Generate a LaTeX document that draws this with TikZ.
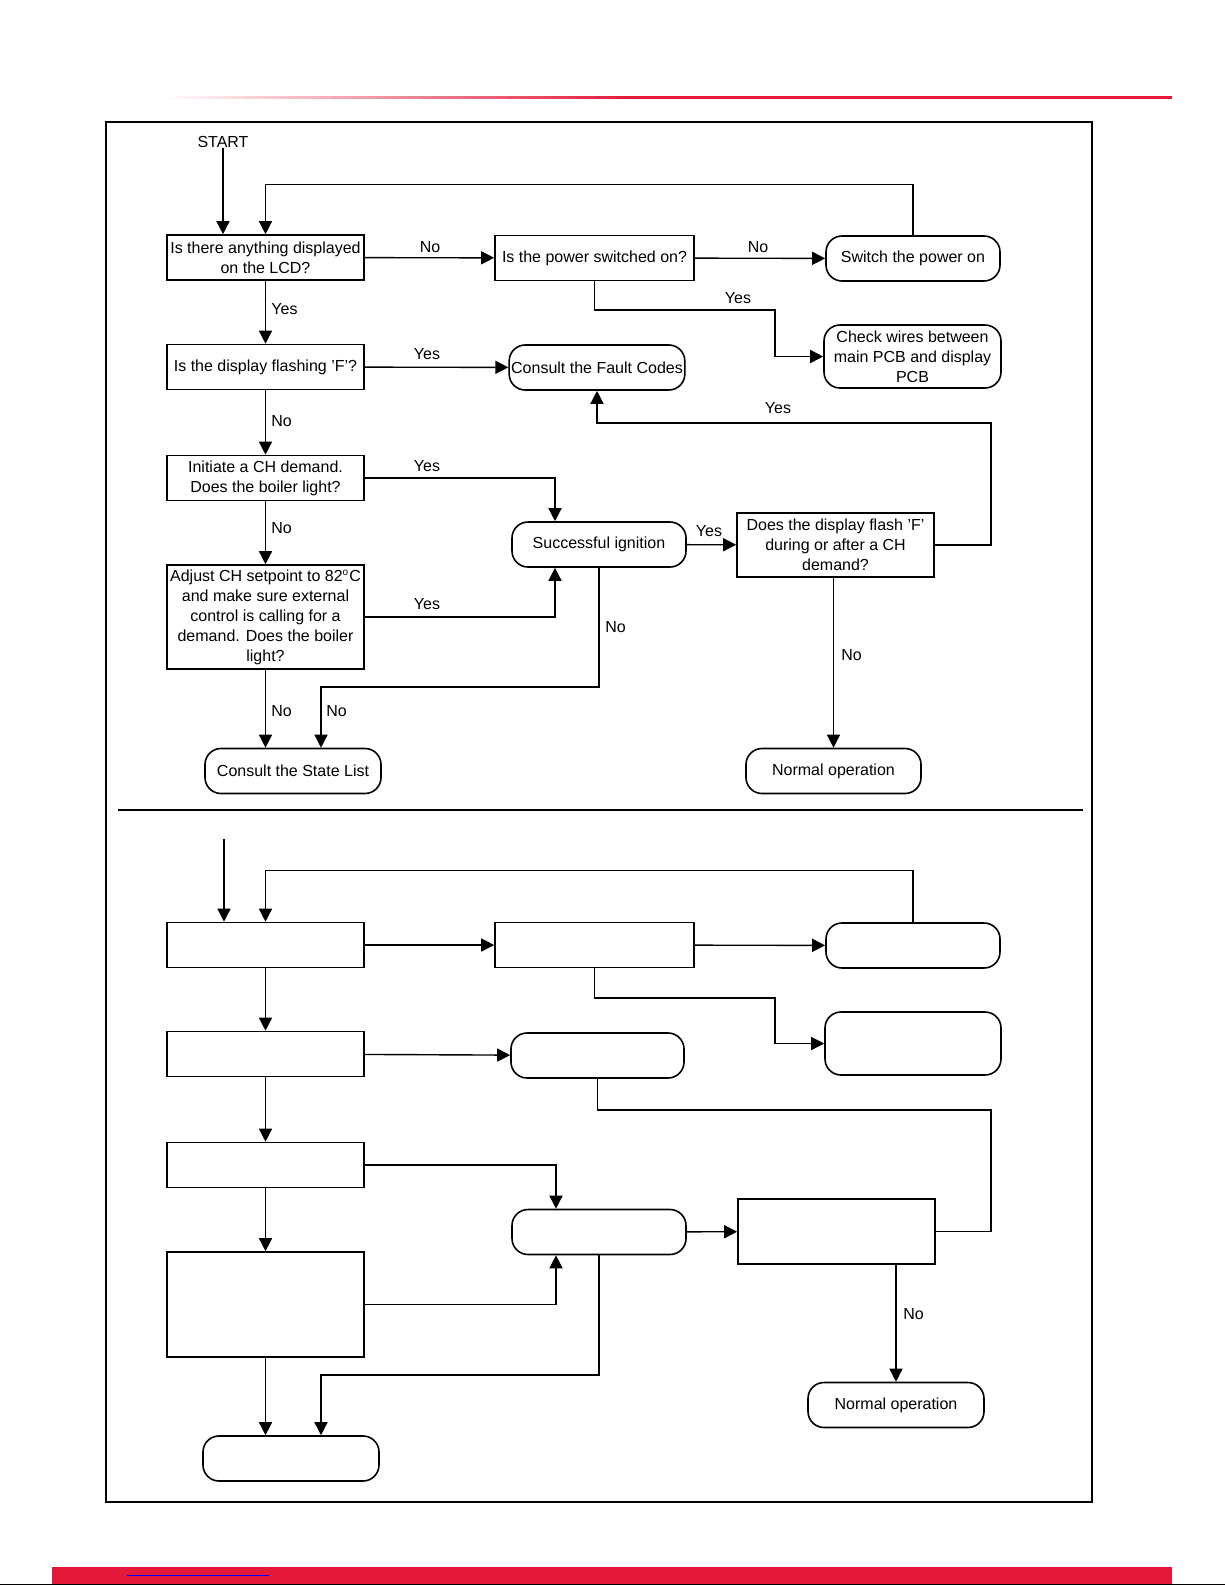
\documentclass[tikz,border=0pt]{standalone}
\usepackage{fontspec}
\setmainfont{Liberation Sans}
\usetikzlibrary{arrows.meta}
\definecolor{brandred}{RGB}{228,24,56}
\newcommand{\txt}{\fontsize{8}{10}\selectfont}
\tikzset{
  box/.style={draw, line width=0.8pt, minimum width=98.5pt, minimum height=22.5pt, align=center, inner sep=1pt, font=\txt},
  term/.style={box, rounded corners=8pt, minimum width=87pt},
  lbl/.style={font=\txt, inner sep=0pt},
  arr/.style={line width=0.7pt, -{Triangle[length=6.5pt,width=6.5pt]}},
  lnk/.style={line width=0.7pt}
}

\begin{document}
\begin{tikzpicture}[x=0.5pt, y=-0.5pt]
                \useasboundingbox (0,0) rectangle (1225,1585);

                % page decoration
                \foreach \k in {0,...,43} {
                  \pgfmathsetmacro{\mix}{100*\k/43}
                  \fill[brandred!\mix!white] (156+11*\k,95.5) rectangle (168+11*\k,98.5);
                }
                \fill[brandred] (639,95.5) rectangle (1172,98.5);
                \fill[brandred] (52,1567) rectangle (1172,1585);
                \draw[blue, line width=0.5pt] (127,1575) -- (269,1575);
                \draw[line width=0.6pt] (0,1584.5) -- (1225,1584.5);
                \draw[line width=0.6pt] (106,122) rectangle (1092,1502);
                \draw[line width=1pt] (118,810) -- (1083,810);

                % upper chart
                \node[lbl] (start) at (223,142) {START};
                \node[box] (a) at (265.5,257.5) {Is there anything displayed\\on the LCD?};
                \node[box, minimum width=99.5pt] (b) at (594.5,258) {Is the power switched on?};
                \node[term] (c) at (913,258.5) {Switch the power on};
                \node[term, minimum width=88.5pt, minimum height=31.5pt] (d) at (912.5,356.5) {Check wires between\\main PCB and display\\PCB};
                \node[box] (e) at (265.5,367) {Is the display flashing 'F'?};
                \node[term] (f) at (597,367.5) {Consult the Fault Codes};
                \node[box] (g) at (265.5,478) {Initiate a CH demand.\\Does the boiler light?};
                \node[term] (h) at (599,544.5) {Successful ignition};
                \node[box, minimum height=52pt] (i) at (265.5,617) {Adjust CH setpoint to 82\textsuperscript{\fontsize{5}{6}\selectfont o}C\\and make sure external\\control is calling for a\\demand. Does the boiler\\light?};
                \node[box, minimum height=32pt] (j) at (835.5,545) {Does the display flash 'F'\\during or after a CH\\demand?};
                \node[term, minimum width=88pt] (k) at (293,771) {Consult the State List};
                \node[term, minimum width=87.5pt] (l) at (833.5,771) {Normal operation};

                \draw[arr] (start.south) -- (start.south |- a.north);
                \draw[arr] (c.north) -- ++(0,-51) -| (a.north);
                \draw[arr] (a) -- (b);
                \draw[arr] (b) -- (c);
                \draw[arr] (b.south) |- (775,310) |- (d.west);
                \draw[arr] (a) -- (e);
                \draw[arr] (e) -- (f);
                \draw[arr] (e) -- (g);
                \draw[arr] (g.east) -| ([xshift=-22pt]h.north);
                \draw[arr] (g) -- (i);
                \draw[arr] (i.east) -| ([xshift=-22pt]h.south);
                \draw[arr] (h) -- (j);
                \draw[arr] (j.east) -| (991,423) -| (f.south);
                \coordinate (hk) at (321,687);
                \draw[arr] (h.south) |- (hk) -- (hk |- k.north);
                \draw[arr] (i.south) -- (i.south |- k.north);
                \draw[arr] (l.north |- j.south) -- (l.north);

                \node[lbl] (n1) at (430,247) {No};
                \node[lbl] (n2) at (758,247) {No};
                \node[lbl] (y1) at (738,298) {Yes};
                \node[lbl, anchor=west] (y2) at (271,309) {Yes};
                \node[lbl] (y3) at (427,354) {Yes};
                \node[lbl] (y4) at (778,408) {Yes};
                \node[lbl, anchor=west] (n3) at (271,421) {No};
                \node[lbl] (y5) at (427,466) {Yes};
                \node[lbl, anchor=west] (n4) at (271,528) {No};
                \node[lbl] (y6) at (709,531) {Yes};
                \node[lbl] (y7) at (427,604) {Yes};
                \node[lbl, anchor=west] (n5) at (605,627) {No};
                \node[lbl, anchor=west] (n6) at (841,655) {No};
                \node[lbl, anchor=west] (n7) at (271,711) {No};
                \node[lbl, anchor=west] (n8) at (326,711) {No};

                % lower chart, blank
                \node[box] (a2) at (265.5,945) {};
                \node[box, minimum width=99.5pt] (b2) at (594.5,945) {};
                \node[term] (c2) at (913,945.5) {};
                \node[term, minimum width=88pt, minimum height=31.5pt] (d2) at (913,1043.5) {};
                \node[box] (e2) at (265.5,1054) {};
                \node[term, minimum width=86.5pt] (f2) at (597.5,1055.5) {};
                \node[box] (g2) at (265.5,1165) {};
                \node[term] (h2) at (599,1232) {};
                \node[box, minimum height=52.5pt] (i2) at (265.5,1304.5) {};
                \node[box, minimum height=32.5pt] (j2) at (836.5,1231.5) {};
                \node[term, minimum width=88pt] (k2) at (291,1458.5) {};
                \node[term, minimum width=88pt] (l2) at (896,1405) {Normal operation};

                \coordinate (s2) at (224,839);
                \draw[arr] (s2) -- (s2 |- a2.north);
                \draw[arr] (c2.north) -- ++(0,-52) -| (a2.north);
                \draw[arr] (a2) -- (b2);
                \draw[arr] (b2) -- (c2);
                \draw[arr] (b2.south) |- (775,998) |- (d2.west);
                \draw[arr] (a2) -- (e2);
                \draw[arr] (e2) -- (f2);
                \draw[lnk] (f2.south) |- (991,1110) |- (j2.east);
                \draw[arr] (e2) -- (g2);
                \draw[arr] (g2.east) -| ([xshift=-21.5pt]h2.north);
                \draw[arr] (g2) -- (i2);
                \draw[arr] (i2.east) -| ([xshift=-21.5pt]h2.south);
                \draw[arr] (h2) -- (j2);
                \coordinate (hk2) at (321,1375);
                \draw[arr] (h2.south) |- (hk2) -- (hk2 |- k2.north);
                \draw[arr] (i2.south) -- (i2.south |- k2.north);
                \draw[arr] (l2.north |- j2.south) -- (l2.north);

                \node[lbl, anchor=west] (n9) at (903,1314) {No};
            \end{tikzpicture}
\end{document}
